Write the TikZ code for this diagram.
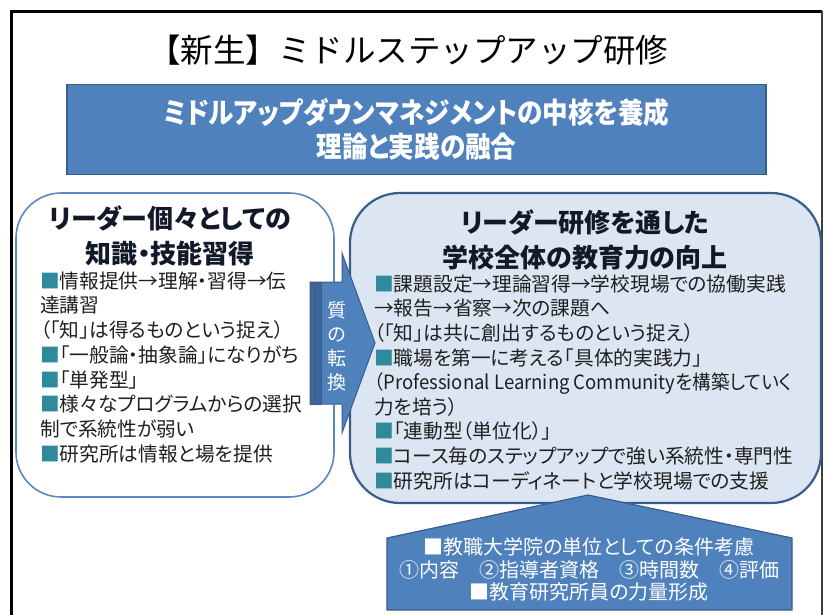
\documentclass[tikz,border=0pt]{standalone}
\usepackage{fontspec}
\usepackage{graphicx}
\setmainfont{Noto Sans CJK JP}
\newfontfamily\jpp{Noto Sans CJK JP}[RawFeature=+palt]
\definecolor{bluefill}{HTML}{4F81BD}
\definecolor{blueline}{HTML}{385D8A}
\definecolor{lightfill}{HTML}{DCE6F2}
\definecolor{lboxline}{HTML}{5A88C2}
\definecolor{bodytext}{HTML}{1F1F1F}
\definecolor{headtext}{HTML}{111827}
\definecolor{bulletc}{HTML}{2F8A9C}
\definecolor{stripec}{HTML}{3F6699}
\newcommand\bsq{\textcolor{bulletc}{■}}
\tikzset{
  body/.style={anchor=west, inner sep=0pt, text=bodytext,
    font=\jpp\fontsize{19.7}{24}\selectfont, text height=15.5pt, text depth=3pt},
  heading/.style={align=center, inner sep=0pt, text=headtext,
    font=\jpp\bfseries\fontsize{26}{35}\selectfont},
  bluebox/.style={fill=bluefill, draw=blueline, line width=1.5pt},
}
\begin{document}
\begin{tikzpicture}[x=1pt,y=-1pt]
\clip (0,0) rectangle (825,614);
\fill[white] (0,0) rectangle (825,614);
% frame
\draw[line width=3pt] (11,640) -- (11,11) -- (822,11);
\draw[line width=1.2pt, black!75] (822,11) -- (822,640);
% title
\node[inner sep=0pt, font=\fontsize{32.5}{33}\selectfont] (title) at (408,50) {【新生】ミドルステップアップ研修};
% banner
\node[bluebox, minimum width=699pt, minimum height=90pt, inner sep=0pt,
  align=center, text=white, font=\jpp\bfseries\fontsize{25.6}{34}\selectfont]
  (banner) at (416.5,129.5)
  {\scalebox{1}[1.12]{ミドルアップダウンマネジメントの中核を養成}\\\scalebox{1}[1.12]{理論と実践の融合}};
% left box
\node[draw=lboxline, line width=1.6pt, fill=white, rounded corners=45pt,
  minimum width=318pt, minimum height=304pt] (lbox) at (175,345) {};
\node[heading] (lhead) at (170,236) {リーダー個々としての\\知識・技能習得};
\node[body] (L1) at (40,282) {\bsq 情報提供→理解・習得→伝};
\node[body] (L2) at (40,306.7) {達講習};
\node[body] (L3) at (40,331.4) {（「知」は得るものという捉え）};
\node[body] (L4) at (40,356.1) {\bsq「一般論・抽象論」になりがち};
\node[body] (L5) at (40,380.8) {\bsq「単発型」};
\node[body] (L6) at (40,405.5) {\bsq 様々なプログラムからの選択};
\node[body] (L7) at (40,430.2) {制で系統性が弱い};
\node[body] (L8) at (40,454.9) {\bsq 研究所は情報と場を提供};
% right box
\node[draw=blueline, line width=2.2pt, fill=lightfill, rounded corners=50pt,
  minimum width=471pt, minimum height=310pt] (rbox) at (585.5,348) {};
\node[heading] (rhead) at (585,240) {リーダー研修を通した\\学校全体の教育力の向上};
\node[body] (R1) at (374,285) {\bsq 課題設定→理論習得→学校現場での協働実践};
\node[body] (R2) at (374,309.6) {→報告→省察→次の課題へ};
\node[body] (R3) at (374,334.2) {（「知」は共に創出するものという捉え）};
\node[body] (R4) at (374,358.8) {\bsq 職場を第一に考える「具体的実践力」};
\node[body] (R5) at (374,383.4) {\scalebox{0.94}[1]{（Professional Learning Communityを構築していく}};
\node[body] (R6) at (374,408) {力を培う）};
\node[body] (R7) at (374,432.6) {\bsq「連動型（単位化）」};
\node[body] (R8) at (374,457.2) {\bsq コース毎のステップアップで強い系統性・専門性};
\node[body] (R9) at (374,481.8) {\bsq 研究所はコーディネートと学校現場での支援};
% arrow
\draw[bluebox, line width=1pt, line join=miter]
  (310,282) -- (342,282) -- (342,253) -- (375,343) -- (342,433) -- (342,404) -- (310,404) -- cycle;
\draw[fill=stripec, draw=blueline, line width=1pt] (310,282) rectangle (321,404);
\draw[blueline, line width=0.8pt] (314,282) -- (314,404);
\node[align=center, inner sep=0pt, text=white, font=\jpp\fontsize{19}{24}\selectfont]
  (arrtxt) at (337,346) {質\\の\\転\\換};
% bottom pentagon
\draw[bluebox, line width=1.2pt, line join=miter]
  (387,610) -- (387,538) -- (588,495) -- (792,538) -- (792,610) -- cycle;
\node[align=center, inner sep=0pt, text=white, font=\jpp\fontsize{20}{22.5}\selectfont]
  (btxt) at (589,569.5) {■教職大学院の単位としての条件考慮\\①内容　②指導者資格　③時間数　④評価\\■教育研究所員の力量形成};
\end{tikzpicture}
\end{document}
